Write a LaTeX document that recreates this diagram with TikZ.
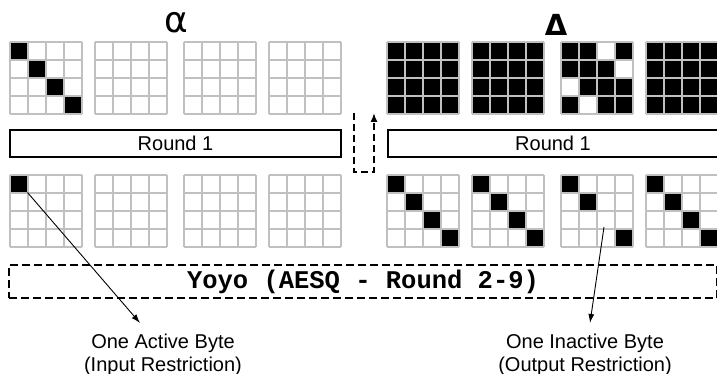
\documentclass[tikz,border=0pt]{standalone}
\usepackage{fontspec}
\setmainfont{Liberation Sans}
\newfontfamily\monob{Liberation Mono}[BoldFont={Liberation Mono Bold}]
\newfontfamily\greekf{DejaVu Sans}
\usetikzlibrary{arrows.meta}
\tikzset{
  gridline/.style={draw={rgb,255:red,192;green,192;blue,192}, line width=2.5pt},
  roundbox/.style={draw=black, line width=1.4pt, fill=white, minimum height=27pt, inner sep=0pt,
    font=\fontsize{20}{24}\selectfont},
  yoyobox/.style={draw=black, line width=1.6pt, dash pattern=on 8pt off 4pt, minimum height=33pt, inner sep=0pt,
    font=\monob\bfseries\fontsize{25.5}{28}\selectfont},
  lbl/.style={align=center, inner sep=0pt, font=\fontsize{20}{22.5}\selectfont},
  pointer/.style={draw=black, line width=0.9pt, -{Latex[length=9pt,width=6pt]}},
  feedback/.style={draw=black, line width=1.5pt, dash pattern=on 7pt off 4pt, -{Latex[length=9pt,width=7pt]}},
}
\newcommand\bytelines[2]{%
  \foreach \i in {0,...,4} {
    \draw[gridline] (#1+\i*18,#2) -- ++(0,72);
    \draw[gridline] (#1,#2+\i*18) -- ++(72,0);
  }}
\newcommand\bytefill[3]{%
  \foreach \c/\r in {#3} { \fill[black] (#1+\c*18,#2+\r*18) rectangle ++(18,18); }}
\begin{document}
\begin{tikzpicture}[x=1pt,y=-1pt]
\clip (0,0) rectangle (717,374);
\fill[white] (0,0) rectangle (717,374);
% Greek labels
\node[inner sep=0pt, font=\greekf\fontsize{36}{40}\selectfont] (alpha) at (176.5,22.5) {α};
\node[inner sep=0pt, font=\greekf\bfseries\fontsize{29}{32}\selectfont] (delta) at (556,25) {Δ};
% top-left grids
\bytefill{10}{42}{0/0,1/1,2/2,3/3}
\bytelines{10}{42}
\bytelines{95}{42}
\bytelines{184}{42}
\bytelines{269}{42}
% top-right grids
\fill[black] (387,42) rectangle ++(72,72);
\fill[black] (472,42) rectangle ++(72,72);
\bytefill{561}{42}{0/0,1/0,3/0,0/1,1/1,2/1,1/2,2/2,3/2,0/3,2/3,3/3}
\fill[black] (646,42) rectangle ++(72,72);
\bytelines{387}{42}
\bytelines{472}{42}
\bytelines{561}{42}
\bytelines{646}{42}
% Round boxes
\node[roundbox, minimum width=331pt] (r1) at (175.5,143.5) {Round 1};
\node[roundbox, minimum width=330pt] (r2) at (553,143.5) {Round 1};
% bottom-left grids
\bytefill{10}{175}{0/0}
\bytelines{10}{175}
\bytelines{95}{175}
\bytelines{184}{175}
\bytelines{269}{175}
% bottom-right grids
\bytefill{387}{175}{0/0,1/1,2/2,3/3}
\bytefill{472}{175}{0/0,1/1,2/2,3/3}
\bytefill{561}{175}{0/0,1/1,3/3}
\bytefill{646}{175}{0/0,1/1,2/2,3/3}
\bytelines{387}{175}
\bytelines{472}{175}
\bytelines{561}{175}
\bytelines{646}{175}
% feedback arrow
\coordinate (fbA) at (354,113);
\coordinate (fbB) at (354,172);
\coordinate (fbC) at (374,172);
\coordinate (fbD) at (374,113);
\draw[feedback] (fbA) -- (fbB) -- (fbC) -- (fbD);
% Yoyo box
\node[yoyobox, minimum width=708pt] (yoyo) at (363,281.5) {Yoyo (AESQ - Round 2-9)};
% labels
\node[lbl, anchor=north] (lin) at (163,334) {One Active Byte\\(Input Restriction)};
\node[lbl, anchor=north] (lout) at (585,334) {One Inactive Byte\\(Output Restriction)};
\coordinate (act) at (27.5,192.5);
\coordinate (inact) at (604,227);
\coordinate (tin) at (140,323);
\coordinate (tout) at (590,323);
\draw[pointer] (act) -- (tin);
\draw[pointer] (inact) -- (tout);
\end{tikzpicture}
\end{document}
